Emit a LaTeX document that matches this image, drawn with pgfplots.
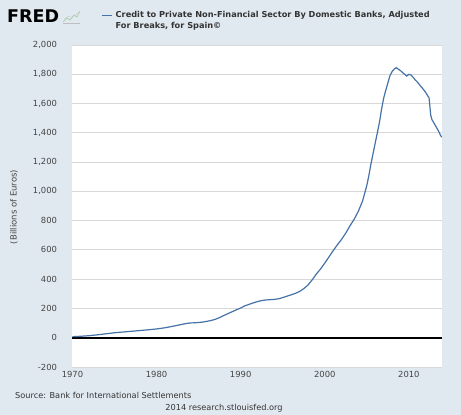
\documentclass[border=0pt]{standalone}
\usepackage{fontspec}
\setmainfont{DejaVu Sans}
\usepackage{pgfplots}
\pgfplotsset{compat=1.18}

\definecolor{fredbg}{RGB}{225,233,240}
\definecolor{fredline}{RGB}{69,114,167}
\definecolor{gridgray}{RGB}{216,216,216}
\definecolor{labelgray}{RGB}{68,68,68}
\definecolor{titlegray}{RGB}{51,51,51}

\begin{document}
\begin{tikzpicture}
  \useasboundingbox (0pt,0pt) rectangle (461pt,415pt);
  \fill[fredbg] (0pt,0pt) rectangle (461pt,415pt);

  % FRED logo
  \node[anchor=west, inner sep=0pt, font=\fontsize{17.5}{18}\selectfont\bfseries] at (7pt,398.5pt) {FRED};
  \draw[green!35!gray!60, line width=0.6pt] (63pt,393pt) -- (67pt,397pt) -- (70pt,395pt) -- (74pt,400pt) -- (77pt,398pt) -- (80pt,404pt);
  \draw[gray!50, line width=0.5pt] (63pt,392pt) -- (80pt,392pt);
  \draw[gray!40, line width=0.5pt] (64pt,395.5pt) -- (68pt,399pt) -- (72pt,397.5pt) -- (79pt,403pt);

  % legend
  \draw[fredline, line width=1.2pt] (101.5pt,399.5pt) -- (112pt,399.5pt);
  \node[anchor=west, inner sep=0pt, align=left, text=titlegray,
        font=\fontsize{8.2}{10.5}\selectfont\bfseries] at (115.5pt,394.5pt)
    {Credit to Private Non-Financial Sector By Domestic Banks, Adjusted\\For Breaks, for Spain\textcopyright};

  % y axis title
  \node[rotate=90, text=labelgray, font=\fontsize{8.5}{10}\selectfont] at (14pt,208pt) {(Billions of Euros)};

  \begin{axis}[
    at={(72.5pt,48pt)}, anchor=south west,
    scale only axis, width=370pt, height=322pt,
    xmin=1970, xmax=2014, ymin=-200, ymax=2000,
    axis background/.style={fill=white},
    axis line style={draw=none},
    major tick length=0pt,
    xtick={1970,1980,...,2010},
    ytick={-200,0,...,2000},
    ymajorgrids,
    grid style={draw=gridgray, line width=0.9pt},
    tick label style={text=labelgray, font=\fontsize{8.4}{10}\selectfont},
    /pgf/number format/assume math mode=true,
    x tick label style={/pgf/number format/1000 sep={}, yshift=-0.5pt},
    y tick label style={/pgf/number format/1000 sep={,}, xshift=-12pt},
    clip=false,
  ]
    % zero line
    \addplot[black, line width=1.6pt] coordinates {(1970,0) (2014,0)};

    \addplot[fredline, line width=1.2pt] coordinates {
      (1970.0,7) (1971.0,10) (1972.0,14) (1973.0,20) (1974.0,27) (1975.0,34)
      (1976.0,39) (1977.0,44) (1978.0,49) (1979.0,54) (1980.0,60) (1981.0,68)
      (1982.0,79) (1983.0,91) (1983.5,97) (1984.0,101) (1984.5,102) (1985.0,104)
      (1985.5,107) (1986.0,112) (1986.5,118) (1987.0,126) (1987.5,138) (1988.0,152)
      (1988.5,165) (1989.0,178) (1989.5,191) (1990.0,203) (1990.5,218) (1991.0,228)
      (1991.5,238) (1992.0,247) (1992.5,254) (1993.0,258) (1993.5,260) (1994.0,262)
      (1994.5,266) (1995.0,274) (1995.5,284) (1996.0,293) (1996.5,303) (1997.0,316)
      (1997.5,335) (1998.0,360) (1998.5,395) (1999.0,435) (1999.5,470) (2000.0,510)
      (2000.5,552) (2001.0,595) (2001.5,635) (2002.0,672) (2002.5,715) (2003.0,765)
      (2003.5,810) (2004.0,865) (2004.5,935) (2005.0,1040) (2005.25,1110) (2005.5,1190)
      (2005.75,1260) (2006.0,1330) (2006.25,1400) (2006.5,1470) (2006.75,1560) (2007.0,1636)
      (2007.25,1690) (2007.5,1740) (2007.75,1790) (2008.0,1818) (2008.25,1835) (2008.5,1845)
      (2008.75,1835) (2009.0,1825) (2009.25,1812) (2009.5,1800) (2009.75,1788) (2010.0,1800)
      (2010.25,1795) (2010.5,1780) (2010.75,1762) (2011.0,1748) (2011.25,1730) (2011.5,1712)
      (2011.75,1695) (2012.0,1676) (2012.25,1652) (2012.4,1640) (2012.5,1580) (2012.6,1520)
      (2012.75,1490) (2013.0,1465) (2013.25,1440) (2013.5,1415) (2013.75,1385) (2013.9,1370)
    };
  \end{axis}

  % footer
  \node[anchor=west, inner sep=0pt, text=titlegray, font=\fontsize{8.2}{10}\selectfont] at (15pt,20pt) {Source: Bank for International Settlements};
  \node[inner sep=0pt, text=titlegray, font=\fontsize{8.2}{10}\selectfont] at (224pt,6.5pt) {2014 research.stlouisfed.org};
\end{tikzpicture}
\end{document}
